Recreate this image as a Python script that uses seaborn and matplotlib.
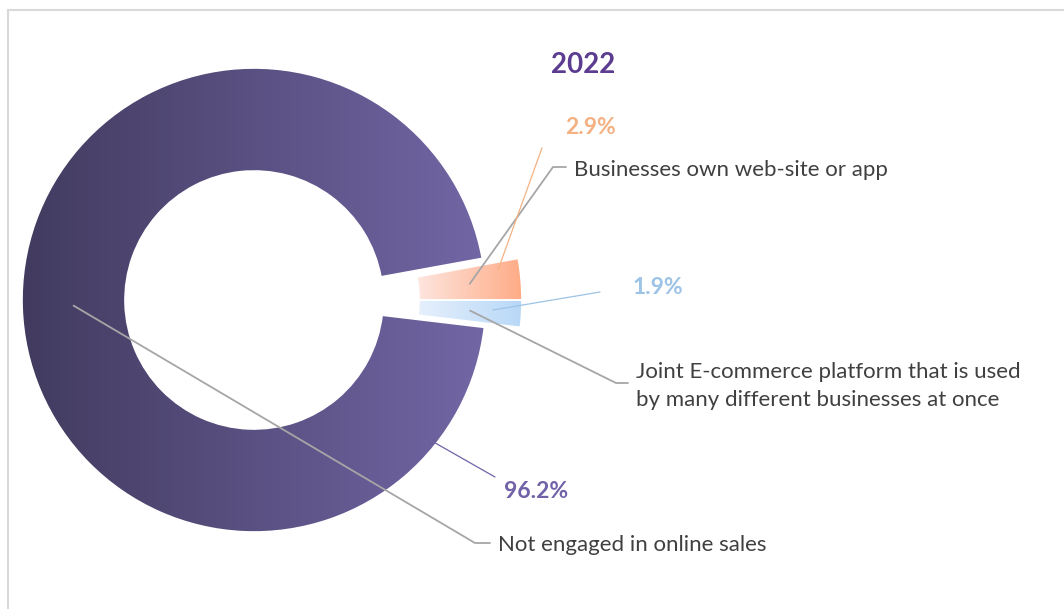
import numpy as np
import matplotlib
matplotlib.use("Agg")
import matplotlib.pyplot as plt
from matplotlib.lines import Line2D
import seaborn as sns

# ---- data -------------------------------------------------------------
year = "2022"
categories = [
    "Businesses own web-site or app",
    "Not engaged in online sales",
    "Joint E-commerce platform that is used\nby many different businesses at once",
]
shares = [2.9, 96.2, 1.9]
pct_labels = ["2.9%", "96.2%", "1.9%"]

# ---- style ------------------------------------------------------------
sns.set_theme(style="white")
plt.rcParams["font.family"] = ["Lato", "DejaVu Sans"]

gradients = [
    sns.blend_palette(["#fde6df", "#ffab86"], n_colors=256, as_cmap=True),
    sns.blend_palette(["#423b5f", "#7266a5"], n_colors=256, as_cmap=True),
    sns.blend_palette(["#e6f0fc", "#b8d8f7"], n_colors=256, as_cmap=True),
]
pct_colors = ["#f4b183", "#7262a8", "#9dc3e6"]
label_color = "#404040"
leader_gray = "#a6a6a6"

W, H = 1064, 609
fig = plt.figure(figsize=(W / 100, H / 100), dpi=100)
ax = fig.add_axes([0, 0, 1, 1])


def py(y):
    """Convert a top-down pixel row to the y-up axes coordinate."""
    return H - y


cx, cy = 254, py(300)
R, ring = 232, 103
shift = 36  # horizontal pull-out of the two small slices

wedges, _ = ax.pie(
    shares,
    center=(cx, cy),
    radius=R,
    startangle=0,
    counterclock=True,
    wedgeprops=dict(width=ring, linewidth=0),
)
for i in (0, 2):
    wedges[i].set_center((cx + shift, cy))

# gradient fill clipped to every slice
for w, cmap in zip(wedges, gradients):
    ext = w.get_path().get_extents()
    grad = np.linspace(0, 1, 256).reshape(1, -1)
    im = ax.imshow(grad, cmap=cmap, extent=[ext.x0, ext.x1, ext.y0, ext.y1],
                   aspect="auto", interpolation="bilinear", zorder=2)
    im.set_clip_path(w)
    w.set_facecolor("none")
    w.set_edgecolor("white")
    w.set_linewidth(1.2)
    w.set_zorder(3)

ax.set_xlim(0, W)
ax.set_ylim(0, H)
ax.set_aspect("auto")
ax.axis("off")


def mid_anchor(w):
    """Point on the middle of the ring along a slice's bisector."""
    th = np.deg2rad((w.theta1 + w.theta2) / 2)
    r = w.r - w.width / 2
    x0, y0 = w.center
    return x0 + r * np.cos(th), y0 + r * np.sin(th)


# ---- title --------------------------------------------------------------
ax.text(583, py(65), year, ha="center", va="center", fontsize=20,
        fontweight="bold", color="#5b3c8f")

# ---- category labels with elbow leaders -----------------------------------
label_pos = [(574, 170), (498, 545), (636, 386)]
elbows = [(553, 167), (475, 543), (616, 383)]
for w, text, (lx, ly), (ex, ey) in zip(wedges, categories, label_pos, elbows):
    ax0, ay0 = mid_anchor(w)
    ax.add_line(Line2D([ax0, ex, lx - 8], [ay0, py(ey), py(ey)],
                       color=leader_gray, lw=1.3, zorder=4))
    ax.text(lx, py(ly), text, ha="left", va="center", fontsize=16,
            color=label_color, linespacing=1.55, zorder=5)

# ---- percentage labels ------------------------------------------------------
pct_pos = [(591, 127), (536, 492), (658, 288)]
pct_leaders = [((542, 148), (498, 270)), ((495, 477), (430, 440)),
               ((600, 292), (493, 310))]
for text, col, (px, pyy), (p0, p1) in zip(pct_labels, pct_colors, pct_pos, pct_leaders):
    ax.add_line(Line2D([p0[0], p1[0]], [py(p0[1]), py(p1[1])],
                       color=col, lw=0.9, zorder=4))
    ax.text(px, py(pyy), text, ha="center", va="center", fontsize=16.5,
            fontweight="bold", color=col, zorder=5)

# ---- chart frame --------------------------------------------------------------
frame = "#d9d9d9"
fig.add_artist(Line2D([8 / W, 8 / W], [0, 1 - 10 / H], transform=fig.transFigure,
                      color=frame, lw=1.5))
fig.add_artist(Line2D([8 / W, 1], [1 - 10 / H, 1 - 10 / H], transform=fig.transFigure,
                      color=frame, lw=1.5))

fig.savefig("out.png", dpi=100, facecolor="white")
